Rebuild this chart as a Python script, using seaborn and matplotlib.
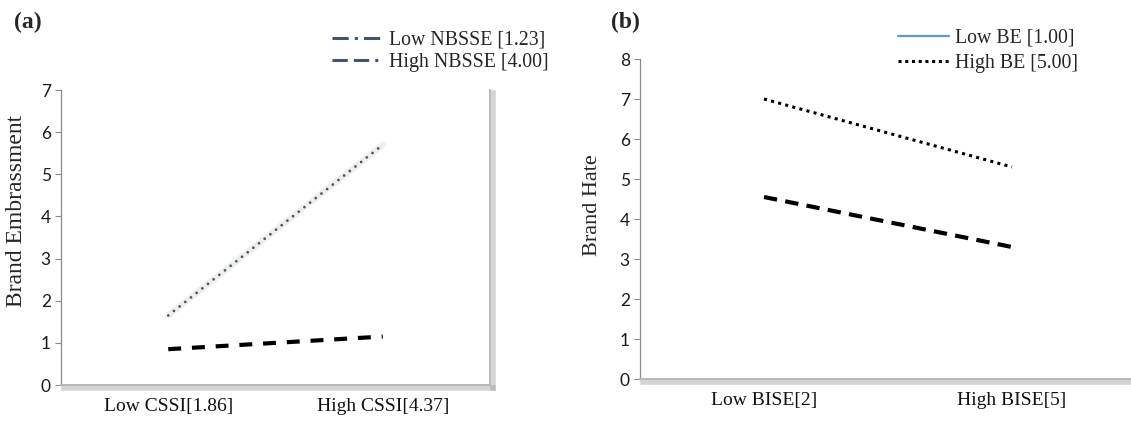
import numpy as np
import pandas as pd
import seaborn as sns
import matplotlib
matplotlib.use('Agg')
import matplotlib.pyplot as plt
import matplotlib.patheffects as pe
from matplotlib.lines import Line2D

# panel (a): brand embarrassment
cssi_levels = ['Low CSSI[1.86]', 'High CSSI[4.37]']
nbsse_groups = ['Low NBSSE [1.23]', 'High NBSSE [4.00]']
embarrassment_low = [0.85, 1.15]
embarrassment_high = [1.65, 5.70]
yticks_a = [0, 1, 2, 3, 4, 5, 6, 7]

# panel (b): brand hate
bise_levels = ['Low BISE[2]', 'High BISE[5]']
be_groups = ['Low BE [1.00]', 'High BE [5.00]']
hate_low = [4.55, 3.30]
hate_high = [7.00, 5.30]
yticks_b = [0, 1, 2, 3, 4, 5, 6, 7, 8]

sns.set_theme(style='white')
plt.rcParams['font.family'] = ['Liberation Serif', 'DejaVu Serif']

SERIF = 'Liberation Serif'
NUMS = 'Lato'
AXIS_GREY = '#8a8a8a'
SLATE = '#44546A'
W, H = 1131, 423

dfa = pd.DataFrame({
    'level': cssi_levels * 2,
    'group': [g for g in nbsse_groups for _ in cssi_levels],
    'value': embarrassment_low + embarrassment_high,
})
dfb = pd.DataFrame({
    'level': bise_levels * 2,
    'group': [g for g in be_groups for _ in bise_levels],
    'value': hate_low + hate_high,
})

fig = plt.figure(figsize=(W / 100, H / 100), dpi=100)
ax_a = fig.add_axes([61 / W, 1 - 385 / H, 429 / W, 295 / H])
ax_b = fig.add_axes([640 / W, 1 - 379 / H, 491 / W, 320 / H])

# ---- panel (a)
low_a = dfa[dfa.group == nbsse_groups[0]]
high_a = dfa[dfa.group == nbsse_groups[1]]
# soft glow under the dotted line
sns.lineplot(data=high_a, x='level', y='value', color='#eeeeee', linewidth=4.5,
             legend=False, ax=ax_a)
sns.lineplot(data=high_a, x='level', y='value', color=SLATE, linewidth=2,
             legend=False, ax=ax_a)
ax_a.lines[-1].set_dashes((0.01, 2.6))
ax_a.lines[-1].set_dash_capstyle('round')
sns.lineplot(data=low_a, x='level', y='value', color='black', linewidth=3,
             legend=False, ax=ax_a)
ax_a.lines[-1].set_dashes((3.1, 2.6))

ax_a.set_xlim(-0.5, 1.5)
ax_a.set_ylim(0, 7)
ax_a.set_yticks(yticks_a)
ax_a.set_ylabel('Brand Embrassment', fontsize=17, family=SERIF)
ax_a.yaxis.set_label_coords(-0.080, 0.59)

# ---- panel (b)
low_b = dfb[dfb.group == be_groups[0]]
high_b = dfb[dfb.group == be_groups[1]]
sns.lineplot(data=high_b, x='level', y='value', color='black', linewidth=2.2,
             legend=False, ax=ax_b)
ax_b.lines[-1].set_dashes((1, 1.4))
sns.lineplot(data=low_b, x='level', y='value', color='black', linewidth=3,
             legend=False, ax=ax_b)
ax_b.lines[-1].set_dashes((3.2, 2.0))

ax_b.set_xlim(-0.5, 1.48)
ax_b.set_ylim(0, 8)
ax_b.set_yticks(yticks_b)
ax_b.set_ylabel('Brand Hate', fontsize=16, family=SERIF)
ax_b.yaxis.set_label_coords(-0.077, 0.544)

shadow = [pe.SimpleLineShadow(offset=(2, -2.5), shadow_color='#a0a0a0',
                              alpha=0.45, linewidth=4), pe.Normal()]
for ax in (ax_a, ax_b):
    ax.set_xlabel('')
    ax.set_facecolor('white')
    ax.spines['top'].set_visible(False)
    ax.spines['left'].set_color(AXIS_GREY)
    ax.spines['left'].set_linewidth(0.9)
    ax.spines['bottom'].set_color('#b8b8b8')
    ax.spines['bottom'].set_linewidth(1.4)
    ax.spines['bottom'].set_path_effects(shadow)
    ax.tick_params(axis='y', left=True, length=4.3, width=0.8, color=AXIS_GREY,
                   pad=3, labelsize=12.5, labelcolor='#1a1a1a')
    ax.tick_params(axis='x', bottom=False, length=0, pad=9, labelsize=14,
                   labelcolor='#111111')
    for t in ax.get_yticklabels():
        t.set_family(NUMS)
    for t in ax.get_xticklabels():
        t.set_family(SERIF)

ax_a.spines['right'].set_color('#bdbdbd')
ax_a.spines['right'].set_linewidth(1.4)
ax_a.spines['right'].set_path_effects(shadow)
ax_b.spines['right'].set_visible(False)

# legends (styles as printed in the source figure)
handles_a = [
    Line2D([], [], color=SLATE, lw=2.2, dashes=(5.3, 2, 1, 2)),
    Line2D([], [], color=SLATE, lw=2.2, dashes=(5, 2, 5, 2, 1, 2)),
]
ax_a.legend(handles_a, nbsse_groups, loc='upper left',
            bbox_to_anchor=(332 / W, 1 - 31 / H),
            bbox_transform=fig.transFigure, frameon=False, handlelength=2.4,
            handletextpad=0.45, labelspacing=0.15, borderpad=0, borderaxespad=0,
            prop={'family': SERIF, 'size': 14.3})

handles_b = [
    Line2D([], [], color='#5B9BD5', lw=1.6),
    Line2D([], [], color='black', lw=2.2, dashes=(1, 1.2)),
]
ax_b.legend(handles_b, be_groups, loc='upper left',
            bbox_to_anchor=(898 / W, 1 - 29 / H),
            bbox_transform=fig.transFigure, frameon=False, handlelength=2.55,
            handletextpad=0.3, labelspacing=0.3, borderpad=0, borderaxespad=0,
            prop={'family': SERIF, 'size': 14.3})

fig.text(14 / W, 1 - 22 / H, '(a)', fontsize=17, fontweight='bold',
         family=SERIF, va='center', ha='left')
fig.text(611 / W, 1 - 22 / H, '(b)', fontsize=17, fontweight='bold',
         family=SERIF, va='center', ha='left')

fig.savefig('out.png', dpi=100, facecolor='white')
